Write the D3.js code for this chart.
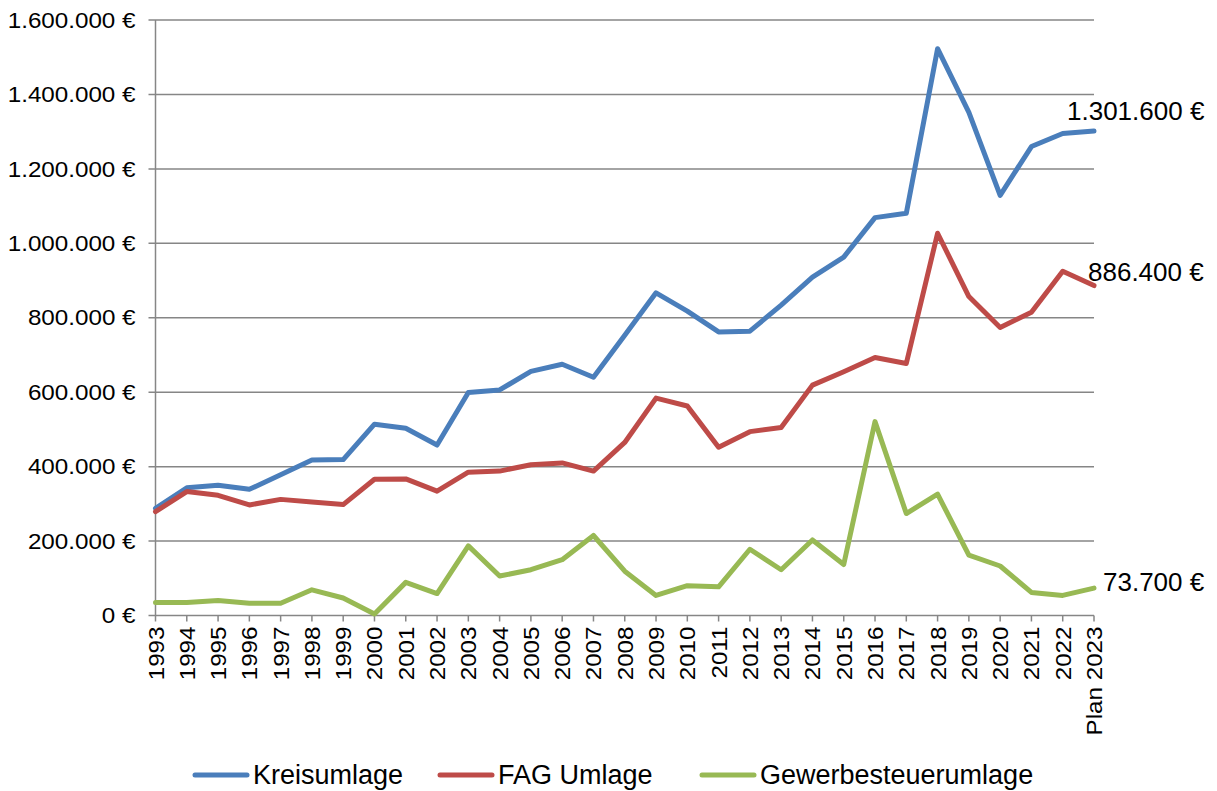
<!DOCTYPE html>
<html>
<head>
<meta charset="utf-8">
<script src="https://cdn.jsdelivr.net/npm/d3@7"></script>
<style>
  body { margin: 0; background: #fff; }
  svg { font-family: "Liberation Sans", Arial, sans-serif; }
  .grid line { stroke: #868686; stroke-width: 1.5; }
</style>
</head>
<body>
<svg width="1217" height="791"></svg>
<script>
const years = ["1993","1994","1995","1996","1997","1998","1999","2000","2001","2002",
  "2003","2004","2005","2006","2007","2008","2009","2010","2011","2012",
  "2013","2014","2015","2016","2017","2018","2019","2020","2021","2022","Plan 2023"];

const kreisumlage = [288000,343000,350000,339000,378000,418000,419000,514000,503000,458000,
  599000,606000,656000,675000,640000,753000,867000,818000,762000,764000,
  834000,909000,963000,1069000,1081000,1523000,1352000,1129000,1260000,1295000,1301600];

const fagUmlage = [279000,333000,323000,297000,312000,305000,298000,366000,367000,334000,
  385000,388000,405000,410000,388000,465000,584000,563000,452000,494000,
  505000,619000,655000,693000,677000,1027000,857000,774000,815000,925000,886400];

const gewerbe = [35000,35000,40000,33000,33000,69000,47000,4000,89000,59000,
  187000,106000,123000,150000,215000,119000,54000,80000,77000,178000,
  123000,203000,137000,521000,274000,326000,162000,133000,62000,54000,73700];

const seriesNames = ["Kreisumlage", "FAG Umlage", "Gewerbesteuerumlage"];
const yTicks = [0,200000,400000,600000,800000,1000000,1200000,1400000,1600000];

const colors = ["#4a7ebb", "#be4b48", "#98b954"];
const series = [kreisumlage, fagUmlage, gewerbe];

const svg = d3.select("svg");
const plotL = 155.5, plotR = 1094, plotT = 20, plotB = 615.5;

const x = d3.scalePoint().domain(years).range([plotL, plotR]);
const y = d3.scaleLinear().domain([0, 1600000]).range([plotB, plotT]);

const fmt = d3.formatLocale({decimal: ",", thousands: ".", grouping: [3], currency: ["", " €"]});
const euro = v => fmt.format(",.0f")(v) + " €";

// gridlines
svg.append("g").attr("class", "grid")
  .selectAll("line").data(yTicks).join("line")
  .attr("x1", plotL - 7).attr("x2", plotR)
  .attr("y1", d => y(d)).attr("y2", d => y(d));

// y axis line
svg.append("line")
  .attr("x1", plotL).attr("x2", plotL).attr("y1", plotT).attr("y2", plotB)
  .attr("stroke", "#868686").attr("stroke-width", 1.5);

// y labels (slightly wide glyphs, like the original)
svg.append("g").selectAll("text").data(yTicks).join("text")
  .attr("transform", d => `translate(${[plotL - 20, y(d)]}) scale(1.1,1)`)
  .attr("dy", "0.35em")
  .attr("text-anchor", "end").attr("font-size", 22)
  .text(d => euro(d));

// x ticks
svg.append("g").selectAll("line").data(years).join("line")
  .attr("x1", d => x(d)).attr("x2", d => x(d))
  .attr("y1", plotB).attr("y2", plotB + 6)
  .attr("stroke", "#868686").attr("stroke-width", 1.5);

svg.append("g").selectAll("text").data(years).join("text")
  .attr("transform", d => `translate(${[x(d) + 8, plotB + 11]}) rotate(-90) scale(1.1,1)`)
  .attr("text-anchor", "end").attr("font-size", 22)
  .text(d => d);

// lines
const line = d3.line().x((d, i) => x(years[i])).y(d => y(d));
svg.append("g").selectAll("path").data(series).join("path")
  .attr("d", d => line(d))
  .attr("fill", "none")
  .attr("stroke", (d, i) => colors[i])
  .attr("stroke-width", 5)
  .attr("stroke-linejoin", "round")
  .attr("stroke-linecap", "round");

// end labels
const last = years[years.length - 1];
const labelOff = [[-27, -20], [-6, -14], [9, -6]];
svg.append("g").selectAll("text").data(series).join("text")
  .attr("x", (d, i) => x(last) + labelOff[i][0])
  .attr("y", (d, i) => y(d[d.length - 1]) + labelOff[i][1])
  .attr("dy", "0.35em")
  .attr("font-size", 26)
  .text(d => euro(d[d.length - 1]));

// legend
const legendX = [195, 440, 702];
const legend = svg.append("g").selectAll("g").data(seriesNames).join("g")
  .attr("transform", (d, i) => `translate(${[legendX[i], 775]})`);
legend.append("line")
  .attr("x1", 0).attr("x2", 52).attr("y1", 0).attr("y2", 0)
  .attr("stroke", (d, i) => colors[i]).attr("stroke-width", 5)
  .attr("stroke-linecap", "round");
legend.append("text")
  .attr("x", 58).attr("dy", "0.35em").attr("font-size", 27)
  .text(d => d);
</script>
</body>
</html>
